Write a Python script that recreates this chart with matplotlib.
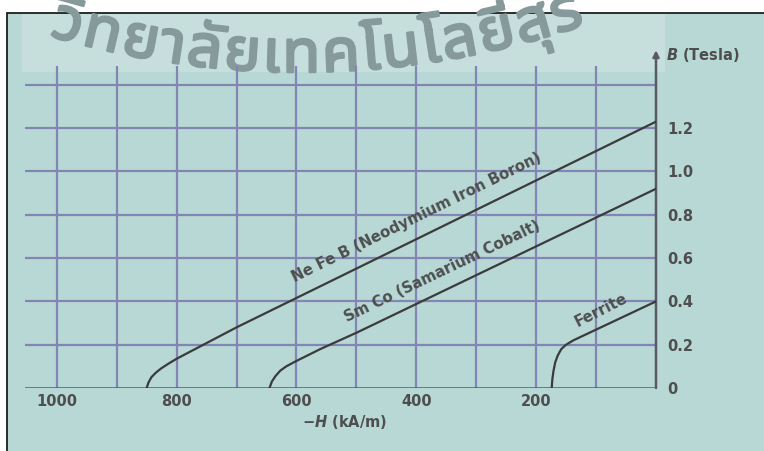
import numpy as np
import matplotlib
matplotlib.use("Agg")
import matplotlib.pyplot as plt
import matplotlib.patheffects as pe
from matplotlib import font_manager
from matplotlib.font_manager import FontProperties
from matplotlib.ft2font import FT2Font
from matplotlib.patches import Rectangle

# ---- demagnetisation curves (second quadrant), -H in kA/m, B in tesla ----
ndfeb_h = [850, 847, 842, 835, 826, 815, 800, 700, 0]
ndfeb_b = [0.0, 0.025, 0.05, 0.07, 0.09, 0.11, 0.135, 0.28, 1.23]

smco_h = [645, 641, 635, 627, 617, 600, 560, 500, 0]
smco_b = [0.0, 0.03, 0.055, 0.08, 0.10, 0.125, 0.18, 0.255, 0.92]

ferrite_h = [174, 173, 171, 168, 164, 158, 150, 138, 0]
ferrite_b = [0.0, 0.04, 0.08, 0.12, 0.15, 0.18, 0.20, 0.22, 0.40]

curve_names = ["Ne Fe B (Neodymium Iron Boron)", "Sm Co (Samarium Cobalt)", "Ferrite"]

x_ticks = [1000, 800, 600, 400, 200]
x_tick_labels = ["1000", "800", "600", "400", "200"]
y_ticks = [0, 0.2, 0.4, 0.6, 0.8, 1.0, 1.2]
y_tick_labels = ["0", "0.2", "0.4", "0.6", "0.8", "1.0", "1.2"]
x_grid = [1000, 900, 800, 700, 600, 500, 400, 300, 200, 100]
y_grid = [0.2, 0.4, 0.6, 0.8, 1.0, 1.2, 1.4]

watermark = ["วิ", "ท", "ย", "า", "ลั", "ย", "เ", "ท", "ค", "โ", "น", "โ", "ล", "ยี", "สุ", "ร"]

# ---- figure geometry (pixels) ----
W, HPX = 764, 451
plt.rcParams["mathtext.fontset"] = "custom"
plt.rcParams["mathtext.it"] = "DejaVu Sans:italic:bold"
plt.rcParams["mathtext.rm"] = "DejaVu Sans:bold"

fig = plt.figure(figsize=(W / 100, HPX / 100), dpi=100)
fig.patch.set_facecolor("white")


def fx(px):
    return px / W


def fy(py):
    return 1 - py / HPX


BG = "#b7d8d5"
GRID = "#8385b4"
INK = "#3b3b3b"
TXT = "#4e4e4e"
STAMP = "#869a9c"

# framed panel
fig.patches.append(Rectangle((fx(7), fy(480)), (800 - 7) / W, (480 - 13) / HPX,
                             transform=fig.transFigure, facecolor=BG,
                             edgecolor="#1e1e1e", lw=1.3, zorder=-3))
# pale band behind the heading stamp
fig.patches.append(Rectangle((fx(22), fy(72)), (665 - 22) / W, (72 - 14) / HPX,
                             transform=fig.transFigure, facecolor="#c6dfdc",
                             edgecolor="none", zorder=-2.5))

ax = fig.add_axes([fx(25), fy(388), (656 - 25) / W, (388 - 66) / HPX])
ax.patch.set_alpha(0)
ax.set_xlim(1053, 0)
ax.set_ylim(0, 1.487)
for s in ax.spines.values():
    s.set_visible(False)

for g in x_grid:
    ax.axvline(g, color=GRID, lw=1.6, zorder=1)
for g in y_grid:
    ax.axhline(g, color=GRID, lw=1.6, zorder=1)

# axes lines with arrow on B axis
ax.axhline(0, color="#5a5a66", lw=1.8, zorder=2)
ax.annotate("", xy=(0, 1.56), xytext=(0, 0),
            arrowprops=dict(arrowstyle="-|>", lw=1.8, color="#5a5a66",
                            mutation_scale=9, shrinkA=0, shrinkB=0),
            annotation_clip=False, zorder=2)

ax.plot(ndfeb_h, ndfeb_b, color=INK, lw=1.6, solid_joinstyle="round", zorder=3)
ax.plot(smco_h, smco_b, color=INK, lw=1.6, solid_joinstyle="round", zorder=3)
ax.plot(ferrite_h, ferrite_b, color=INK, lw=1.6, solid_joinstyle="round", zorder=3)

ax.set_xticks(x_ticks)
ax.set_xticklabels(x_tick_labels)
ax.yaxis.tick_right()
ax.set_yticks(y_ticks)
ax.set_yticklabels(y_tick_labels)
ax.tick_params(axis="both", length=0, labelsize=10.5, labelcolor=TXT)
ax.tick_params(axis="x", pad=4)
ax.tick_params(axis="y", pad=8)
for lab in ax.get_xticklabels() + ax.get_yticklabels():
    lab.set_fontweight("bold")

fig.text(fx(302), fy(422), r"$-\mathit{H}$ (kA/m)", fontsize=10.5, fontweight="bold",
         color=TXT, ha="left", va="center")
fig.text(fx(666), fy(55), r"$\mathit{B}$ (Tesla)", fontsize=10.5, fontweight="bold",
         color=TXT, ha="left", va="center")


def screen_angle(h0, b0, h1, b1):
    p0 = ax.transData.transform((h0, b0))
    p1 = ax.transData.transform((h1, b1))
    return np.degrees(np.arctan2(p1[1] - p0[1], p1[0] - p0[0]))


label_specs = [
    (curve_names[0], 602.7, 0.49, screen_angle(ndfeb_h[-2], ndfeb_b[-2], ndfeb_h[-1], ndfeb_b[-1])),
    (curve_names[1], 515.9, 0.305, screen_angle(smco_h[-2], smco_b[-2], smco_h[-1], smco_b[-1])),
    (curve_names[2], 130.2, 0.282, screen_angle(ferrite_h[-2], ferrite_b[-2], ferrite_h[-1], ferrite_b[-1]) + 1.5),
]
for text, h, b, ang in label_specs:
    ax.text(h, b, text, rotation=ang, rotation_mode="anchor", ha="left", va="baseline",
            fontsize=10.7, fontweight="bold", color=TXT, zorder=4)


# ---- heading stamp along an arc ----
def thai_font_path():
    found = []
    for entry in font_manager.fontManager.ttflist:
        try:
            if FT2Font(entry.fname).get_char_index(ord("ท")):
                found.append(entry)
        except Exception:
            continue
    if not found:
        return None

    def rank(e):
        name = e.name.lower()
        w = e.weight if isinstance(e.weight, int) else font_manager.weight_dict.get(str(e.weight), 400)
        modern = 0 if ("noto sans thai" in name and "looped" not in name) else 1
        return (modern, abs(w - 700), e.style != "normal")

    return sorted(found, key=rank)[0].fname


path = thai_font_path()
if path is not None:
    fp = FontProperties(fname=path, size=45)
    stroke = [pe.withStroke(linewidth=1.8, foreground=STAMP)]
    renderer = fig.canvas.get_renderer()
    cx, cy_low, R = 300, 72, 880
    s = R * np.arcsin((48 - cx) / R)
    for cl in watermark:
        t = fig.text(0, 0, cl, fontproperties=fp)
        w = t.get_window_extent(renderer).width + 2
        t.remove()
        theta = (s + w / 2) / R
        px = cx + R * np.sin(theta)
        py = cy_low - R * (1 - np.cos(theta))
        fig.text(fx(px), fy(py), cl, fontproperties=fp, color=STAMP,
                 ha="center", va="baseline", rotation=np.degrees(theta),
                 rotation_mode="anchor", zorder=-1, path_effects=stroke)
        s += w

fig.savefig("out.png", dpi=100, facecolor=fig.get_facecolor())
